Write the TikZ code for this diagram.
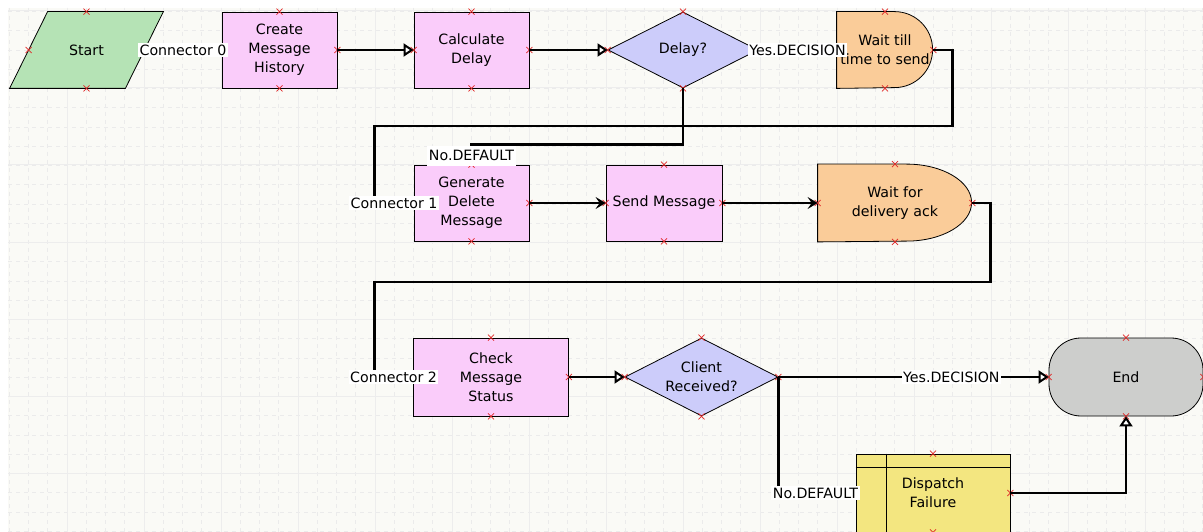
\documentclass[tikz,border=0pt]{standalone}
\usepackage{fontspec}
\setmainfont{DejaVu Sans}
\usetikzlibrary{shapes.geometric,arrows.meta,backgrounds}

\definecolor{startgreen}{RGB}{181,227,181}
\definecolor{taskpink}{RGB}{250,204,250}
\definecolor{decisionblue}{RGB}{204,204,250}
\definecolor{waitorange}{RGB}{250,204,153}
\definecolor{endgray}{RGB}{205,206,204}
\definecolor{subyellow}{RGB}{243,230,128}
\definecolor{canvasbg}{RGB}{250,250,246}
\definecolor{markred}{RGB}{225,40,40}

\begin{document}
\begin{tikzpicture}[x=1pt,y=-1pt,>=Stealth,node distance=192pt,
  box/.style={draw,line width=0.8pt,inner sep=0pt,align=center,font=\fontsize{14.2}{19}\selectfont},
  task node/.style={box,rectangle,fill=taskpink,minimum width=115pt,minimum height=76pt},
  decision node/.style={box,diamond,shape aspect=2,fill=decisionblue,minimum width=150pt,minimum height=76pt},
  free node/.style={box,draw=none,rectangle},
  free shape/.style={draw,line width=0.8pt},
  flow/.style={line width=2.8pt,-{Triangle[fill=white,length=10pt,width=13pt,line width=2pt]}},
  solid flow/.style={line width=2.8pt,-{Stealth[length=10pt,width=12pt,inset=4pt]}},
  link label/.style={fill=white,inner sep=1.5pt,font=\fontsize{14.2}{19}\selectfont},
  minor grid/.style={black!8,line width=0.7pt,dash pattern=on 4pt off 4pt},
  major grid/.style={black!7,line width=1pt},
  conn mark/.pic={\draw[markred,line width=0.8pt] (-3,-3) -- (3,3) (-3,3) -- (3,-3);}]
  \useasboundingbox (0,0) rectangle (1203,532);

  % first row
  \node[free node,minimum width=153pt,minimum height=76pt] (start) at (86.5,50) {Start};
  \node[task node] (create) [right of=start, xshift=1pt] {Create\\Message\\History};
  \node[task node] (calc) [right of=create] {Calculate\\Delay};
  \node[decision node] (delay) [right of=calc, xshift=19.5pt] {Delay?};
  \node[free node,minimum width=96pt,minimum height=76pt] (waitsend) [right of=delay, xshift=10pt] {Wait till\\time to send};
  \coordinate (start left) at ([xshift=19pt]start.west);
  \coordinate (start right) at ([xshift=-19pt]start.east);

  % second row
  \node[task node] (generate) [below of=calc, yshift=39pt] {Generate\\Delete\\Message};
  \node[task node,minimum width=116pt] (send) [right of=generate, xshift=0.5pt] {Send Message};
  \node[free node,minimum width=154pt,minimum height=77pt] (waitack) [right of=send, xshift=39pt] {Wait for\\delivery ack};

  % third row
  \node[task node,minimum width=155pt,minimum height=78pt] (check) [below of=generate, xshift=19.5pt, yshift=18pt] {Check\\Message\\Status};
  \node[decision node,minimum width=153pt,minimum height=78pt] (client) [right of=check, xshift=18.5pt] {Client\\Received?};
  \node[box,rectangle,rounded corners=32pt,fill=endgray,minimum width=154pt,minimum height=78pt] (finish) [right of=client, xshift=232.5pt] {End};
  \node[box,rectangle,fill=subyellow,minimum width=154pt,minimum height=78pt] (dispatch) [below of=finish, xshift=-193pt, yshift=76pt] {Dispatch\\Failure};
  \draw[line width=0.8pt] ([xshift=31pt]dispatch.north west) -- ([xshift=31pt]dispatch.south west)
    ([yshift=-14pt]dispatch.north west) -- ([yshift=-14pt]dispatch.north east);

  \begin{pgfonlayer}{background}
    \fill[white] (0,0) rectangle (1203,532);
    \fill[canvasbg] (8,8) rectangle (1203,532);
    \foreach \gx in {9.25,28.5,...,1203} \draw[minor grid] (\gx,8) -- (\gx,532);
    \foreach \gy in {11.5,30.75,...,532} \draw[minor grid] (8,\gy) -- (1203,\gy);
    \foreach \gx in {67,144,...,1203} \draw[major grid] (\gx,8) -- (\gx,532);
    \foreach \gy in {11,88,...,532} \draw[major grid] (8,\gy) -- (1203,\gy);
    \draw[free shape,fill=startgreen] ([xshift=38pt]start.north west) -- (start.north east)
      -- ([xshift=-38pt]start.south east) -- (start.south west) -- cycle;
    \draw[free shape,fill=waitorange] (waitsend.north west) -- ++(58,0) arc[start angle=90,end angle=-90,radius=38pt]
      -- (waitsend.south west) -- cycle;
    \draw[free shape,fill=waitorange] (waitack.north west) -- ++(89,0) arc[start angle=90,end angle=-90,x radius=65pt,y radius=38.5pt]
      -- (waitack.south west) -- cycle;
  \end{pgfonlayer}

  % connection points
  \foreach \n in {create,calc,delay,waitsend,generate,send,waitack,check,client,finish,dispatch}
    \foreach \a in {north,south,east,west}
      \pic at (\n.\a) {conn mark};
  \foreach \p in {start.north,start.south,start left,start right}
    \pic at (\p) {conn mark};

  % connectors
  \draw[flow] (start right) -- node[link label] {Connector 0} (create);
  \draw[flow] (create) -- (calc);
  \draw[flow] (calc) -- (delay);
  \draw[flow] (delay) -- node[link label] {Yes.DECISION} (waitsend);
  \draw[flow] (delay.south) |- ([yshift=20pt]generate.north) -- node[link label,minimum height=20pt,pos=0.55] {No.DEFAULT} (generate.north);
  \draw[flow] (waitsend.east) -- ++(19,0) |- ([xshift=-39pt,yshift=77pt]generate.west)
    |- node[link label,pos=0.75] {Connector 1} (generate.west);
  \draw[solid flow] (generate) -- (send);
  \draw[solid flow] (send) -- (waitack);
  \draw[flow] (waitack.east) -- ++(18,0) |- ([xshift=-39pt,yshift=95pt]check.west)
    |- node[link label,pos=0.75] {Connector 2} (check.west);
  \draw[flow] (check) -- (client);
  \draw[flow] (client.east) -- node[link label,pos=0.64] {Yes.DECISION} (finish);
  \draw[flow] (client.east) |- node[link label,pos=0.74] {No.DEFAULT} (dispatch.west);
  \draw[flow] (dispatch.east) -| (finish.south);
\end{tikzpicture}
\end{document}
